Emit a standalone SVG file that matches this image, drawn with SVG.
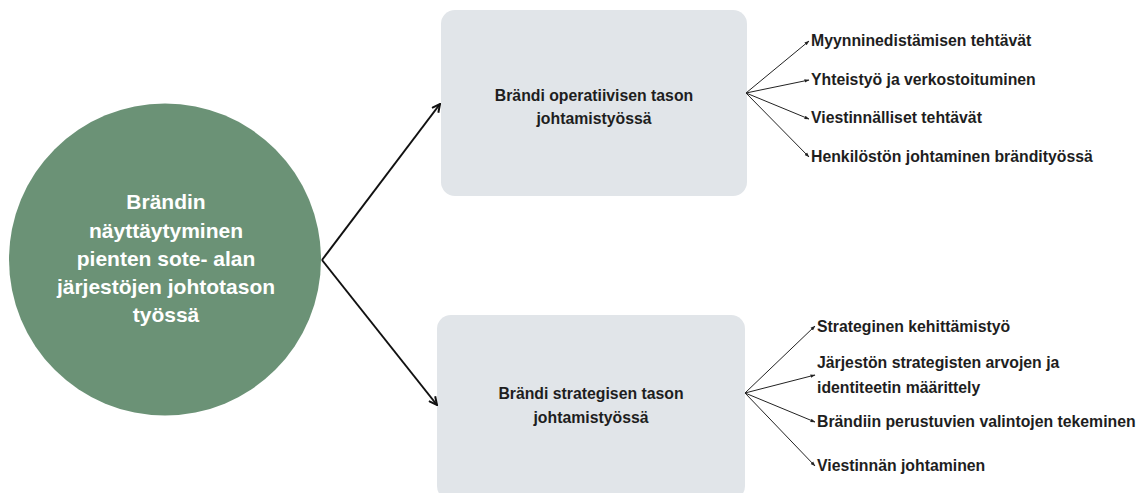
<svg xmlns="http://www.w3.org/2000/svg" width="1147" height="493" viewBox="0 0 1147 493">
  <style>
    text { font-family: "Liberation Sans", Arial, sans-serif; font-weight: bold; }
    .main { fill: #ffffff; font-size: 21px; text-anchor: middle; }
    .box { fill: #e1e5e9; }
    .boxt { fill: #1e1e1e; font-size: 15.8px; text-anchor: middle; }
    .leaf { fill: #1e1e1e; font-size: 15.8px; }
    .big { stroke: #111; stroke-width: 2; fill: none; }
    .thin { stroke: #222; stroke-width: 1; fill: none; }
  </style>
  <defs>
    <marker id="ah" viewBox="0 0 10 10" refX="9" refY="5" markerWidth="5" markerHeight="5" orient="auto" markerUnits="strokeWidth">
      <path d="M1,1 L9,5 L1,9" fill="none" stroke="#111" stroke-width="2"/>
    </marker>
    <marker id="as" viewBox="0 0 10 10" refX="9" refY="5" markerWidth="5" markerHeight="5" orient="auto" markerUnits="strokeWidth">
      <path d="M0,1.5 L10,5 L0,8.5 Z" fill="#222"/>
    </marker>
  </defs>

  <g id="center">
    <circle cx="165" cy="259.5" r="156" fill="#6b9276"/>
    <text class="main" x="166" y="209">Brändin</text>
    <text class="main" x="166" y="238">näyttäytyminen</text>
    <text class="main" x="166" y="266">pienten sote- alan</text>
    <text class="main" x="166" y="294">järjestöjen johtotason</text>
    <text class="main" x="166" y="322">työssä</text>
  </g>

  <g id="operational">
    <rect class="box" x="441" y="10" width="306" height="186" rx="14"/>
    <text class="boxt" x="594" y="101">Brändi operatiivisen tason</text>
    <text class="boxt" x="594" y="124">johtamistyössä</text>
  </g>

  <g id="strategic">
    <rect class="box" x="437" y="315" width="308" height="185" rx="14"/>
    <text class="boxt" x="591" y="399">Brändi strategisen tason</text>
    <text class="boxt" x="591" y="423">johtamistyössä</text>
  </g>

  <g id="op-items">
    <text class="leaf" x="811" y="46">Myynninedistämisen tehtävät</text>
    <text class="leaf" x="811" y="85">Yhteistyö ja verkostoituminen</text>
    <text class="leaf" x="811" y="123">Viestinnälliset tehtävät</text>
    <text class="leaf" x="811" y="162">Henkilöstön johtaminen brändityössä</text>
  </g>

  <g id="st-items">
    <text class="leaf" x="817" y="332">Strateginen kehittämistyö</text>
    <text class="leaf" x="817" y="368">Järjestön strategisten arvojen ja</text>
    <text class="leaf" x="817" y="393">identiteetin määrittely</text>
    <text class="leaf" x="817" y="427">Brändiin perustuvien valintojen tekeminen</text>
    <text class="leaf" x="817" y="471">Viestinnän johtaminen</text>
  </g>

  <g id="connectors">
    <line class="big" x1="322" y1="260" x2="440" y2="104" marker-end="url(#ah)"/>
    <line class="big" x1="322" y1="260" x2="437" y2="405" marker-end="url(#ah)"/>

    <line class="thin" x1="746" y1="93" x2="809" y2="41" marker-end="url(#as)"/>
    <line class="thin" x1="746" y1="93" x2="809" y2="80" marker-end="url(#as)"/>
    <line class="thin" x1="746" y1="93" x2="809" y2="119" marker-end="url(#as)"/>
    <line class="thin" x1="746" y1="93" x2="809" y2="157" marker-end="url(#as)"/>

    <line class="thin" x1="745" y1="393" x2="815" y2="326" marker-end="url(#as)"/>
    <line class="thin" x1="745" y1="393" x2="815" y2="375" marker-end="url(#as)"/>
    <line class="thin" x1="745" y1="393" x2="815" y2="422" marker-end="url(#as)"/>
    <line class="thin" x1="745" y1="393" x2="815" y2="466" marker-end="url(#as)"/>
  </g>
</svg>
